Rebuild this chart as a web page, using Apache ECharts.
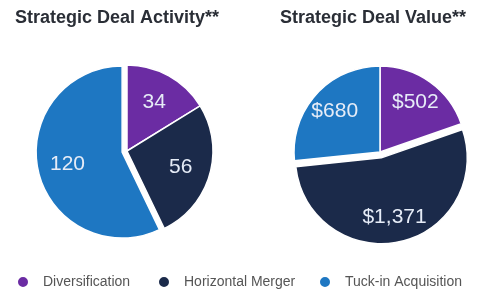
<!DOCTYPE html>
<html>
<head>
<meta charset="utf-8">
<script src="https://cdn.jsdelivr.net/npm/echarts@6/dist/echarts.min.js"></script>
<style>
  html, body { margin: 0; padding: 0; background: #fff; }
  #chart { width: 500px; height: 300px; }
</style>
</head>
<body>
<div id="chart"></div>
<script>
// deal types and values
var dealTypes = ["Diversification", "Horizontal Merger", "Tuck-in Acquisition"];
var dealCounts = [34, 56, 120];
var dealValues = [502, 1371, 680];
var colors = ["#6b2ca3", "#1b2a4a", "#1e77c2"];

var chart = echarts.init(document.getElementById("chart"));

function buildData(values, selectedIdx) {
  return dealTypes.map(function(name, i) {
    return { name: name, value: values[i], selected: i === selectedIdx };
  });
}

function money(v) {
  return "$" + v.toLocaleString("en-US");
}

var labelStyle = {
  show: true,
  position: "inner",
  color: "#e6ecf7",
  fontSize: 21,
  fontFamily: "Liberation Sans, Arial, sans-serif"
};

// one pie for the slices, a transparent ring on top only to place labels
function pieSeries(center, values, selectedIdx, fmt, offset, labelR0) {
  var base = {
    type: "pie",
    center: center,
    startAngle: 90,
    clockwise: true,
    selectedMode: "single",
    selectedOffset: offset,
    animation: false,
    emphasis: { disabled: true }
  };
  var slices = Object.assign({}, base, {
    radius: [0, 86],
    itemStyle: { borderColor: "#fff", borderWidth: 1.5 },
    label: { show: false },
    labelLine: { show: false },
    data: buildData(values, selectedIdx)
  });
  var labels = Object.assign({}, base, {
    radius: [labelR0, 86],
    silent: true,
    itemStyle: { color: "rgba(0,0,0,0)", borderWidth: 0 },
    label: Object.assign({}, labelStyle, {
      formatter: function(p) { return fmt(p.value); }
    }),
    labelLine: { show: false },
    data: buildData(values, selectedIdx)
  });
  return [slices, labels];
}

var legendText = { color: "#555", fontSize: 14, fontFamily: "Liberation Sans, Arial, sans-serif" };
function legendAt(left, name) {
  return {
    data: [name],
    left: left,
    bottom: 6,
    icon: "circle",
    itemWidth: 12,
    itemHeight: 12,
    itemGap: 0,
    selectedMode: false,
    textStyle: Object.assign({ padding: [0, 0, 0, 9] }, legendText)
  };
}

var titleStyle = { color: "#2a2e36", fontSize: 18, fontWeight: "bold", fontFamily: "Liberation Sans, Arial, sans-serif" };

chart.setOption({
  color: colors,
  title: [
    { text: "Strategic Deal Activity**", left: 10, top: 4, textStyle: titleStyle },
    { text: "Strategic Deal Value**", left: 275, top: 4, textStyle: titleStyle }
  ],
  legend: [
    legendAt(11, dealTypes[0]),
    legendAt(152, dealTypes[1]),
    legendAt(313, dealTypes[2])
  ],
  series: [].concat(
    pieSeries([127, 151], dealCounts, 2, function(v) { return String(v); }, 5, 20),
    pieSeries([380, 152], dealValues, 1, money, 6, 30)
  )
});
</script>
</body>
</html>
